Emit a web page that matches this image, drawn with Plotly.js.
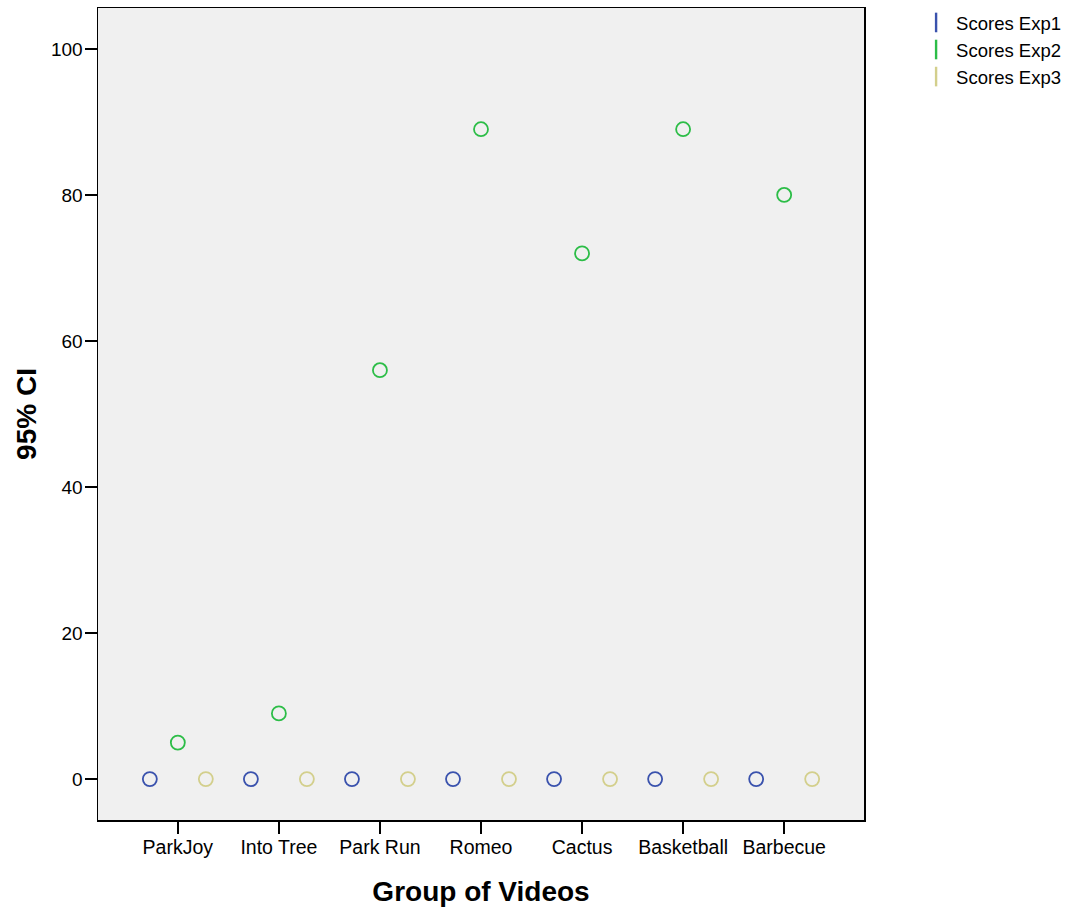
<!DOCTYPE html>
<html>
<head>
<meta charset="utf-8">
<script src="https://cdn.plot.ly/plotly-3.0.1.min.js"></script>
<style>html,body{margin:0;padding:0;background:#fff;}#chart{width:1078px;height:911px;}</style>
</head>
<body>
<div id="chart"></div>
<script>
var categories = ["ParkJoy", "Into Tree", "Park Run", "Romeo", "Cactus", "Basketball", "Barbecue"];
var seriesNames = ["Scores Exp1", "Scores Exp2", "Scores Exp3"];
var exp1 = [0, 0, 0, 0, 0, 0, 0];
var exp2 = [5, 9, 56, 89, 72, 89, 80];
var exp3 = [0, 0, 0, 0, 0, 0, 0];
var yTicks = [0, 20, 40, 60, 80, 100];

var colors = ["#3a52ad", "#2cbd47", "#d3cf8c"];
var offsets = [-0.277, 0, 0.277];
var seriesVals = [exp1, exp2, exp3];
var idx = categories.map(function (c, i) { return i; });

var traces = [];
seriesVals.forEach(function (vals, s) {
  traces.push({
    type: "scatter", mode: "markers",
    x: idx.map(function (i) { return i + offsets[s]; }),
    y: vals,
    name: seriesNames[s],
    showlegend: false,
    marker: { symbol: "circle-open", size: 14, color: colors[s], line: { width: 1.8, color: colors[s] } },
    hoverinfo: "y"
  });
});
seriesVals.forEach(function (vals, s) {
  traces.push({
    type: "scatter", mode: "markers",
    x: [null], y: [null],
    name: seriesNames[s],
    showlegend: true,
    marker: { symbol: "line-ns-open", size: 14, color: colors[s], line: { width: 2.4, color: colors[s] } }
  });
});

var layout = {
  width: 1078, height: 911,
  margin: { l: 98, r: 214, t: 8, b: 91, autoexpand: false },
  paper_bgcolor: "#ffffff",
  plot_bgcolor: "#f0f0f0",
  font: { family: "Liberation Sans, Arial, sans-serif", size: 20, color: "#000" },
  xaxis: {
    range: [-0.79, 6.79],
    tickvals: idx, ticktext: categories,
    showgrid: false, zeroline: false,
    ticks: "outside", ticklen: 12, tickwidth: 2.5, tickcolor: "#000",
    ticklabelstandoff: -3,
    showline: true, linecolor: "#000", linewidth: 1.5, mirror: true,
    tickfont: { size: 19.5 },
    title: { text: "<b>Group of Videos</b>", font: { size: 28 }, standoff: 24 }
  },
  yaxis: {
    range: [-5.6, 105.6],
    tickvals: yTicks,
    showgrid: false, zeroline: false,
    ticks: "outside", ticklen: 12, tickwidth: 2.5, tickcolor: "#000",
    ticklabelstandoff: -2,
    showline: true, linecolor: "#000", linewidth: 1.5, mirror: true,
    tickfont: { size: 19 },
    title: { text: "<b>95% CI</b>", font: { size: 28 }, standoff: 6 }
  },
  legend: {
    x: 1.068, xanchor: "left", y: 1.005, yanchor: "top",
    font: { size: 18.5 }, bgcolor: "rgba(0,0,0,0)",
    itemwidth: 30, tracegroupgap: 0
  },
  showlegend: true
};

Plotly.newPlot("chart", traces, layout, { displayModeBar: false, staticPlot: true });
</script>
</body>
</html>
